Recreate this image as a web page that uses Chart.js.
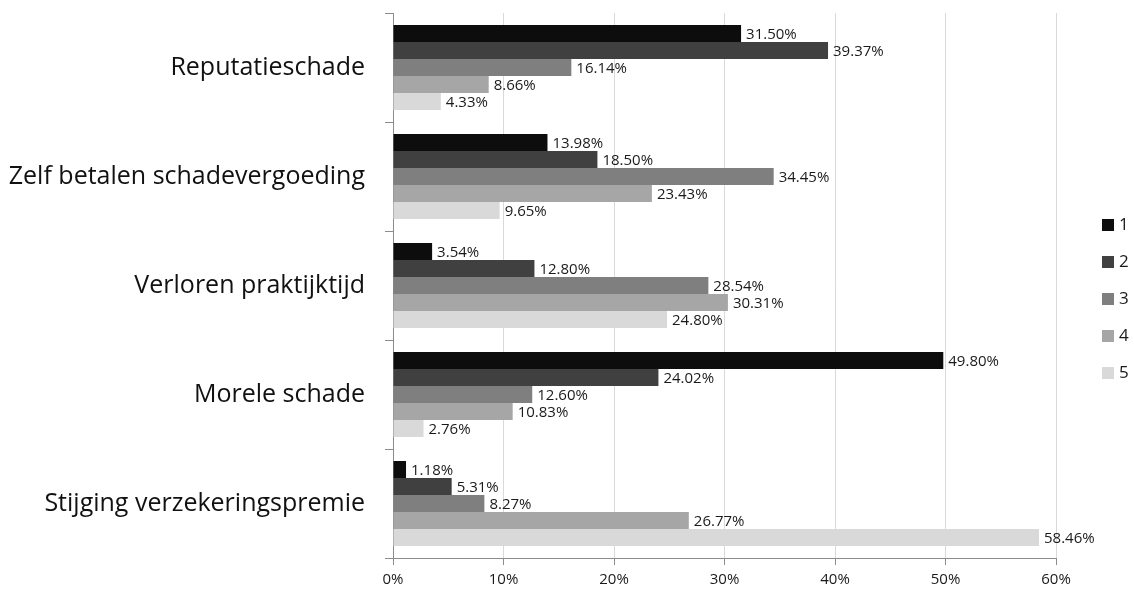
<!DOCTYPE html>
<html>
<head>
<meta charset="utf-8">
<script src="https://cdn.jsdelivr.net/npm/chart.js@4"></script>
<style>
  html, body { margin: 0; padding: 0; background: #fff; }
  #wrap { width: 1134px; height: 591px; }
</style>
</head>
<body>
<div id="wrap"><canvas id="chart" width="1134" height="591"></canvas></div>
<script>
// categories (top to bottom)
const categories = [
  "Reputatieschade",
  "Zelf betalen schadevergoeding",
  "Verloren praktijktijd",
  "Morele schade",
  "Stijging verzekeringspremie",
];

// series values (%), one array per score 1..5
const seriesNames = ["1", "2", "3", "4", "5"];
const score1 = [31.5, 13.98, 3.54, 49.8, 1.18];
const score2 = [39.37, 18.5, 12.8, 24.02, 5.31];
const score3 = [16.14, 34.45, 28.54, 12.6, 8.27];
const score4 = [8.66, 23.43, 30.31, 10.83, 26.77];
const score5 = [4.33, 9.65, 24.8, 2.76, 58.46];
const seriesData = [score1, score2, score3, score4, score5];
const seriesColors = ["#0d0d0d", "#404040", "#7f7f7f", "#a6a6a6", "#d9d9d9"];

const xTicks = [0, 10, 20, 30, 40, 50, 60];

const FONT = "'Open Sans', 'Liberation Sans', sans-serif";

// ==================================
// Data labels at the bar ends
// ==================================
const barLabels = {
  id: "barLabels",
  afterDatasetsDraw(chart) {
    const { ctx } = chart;
    ctx.save();
    ctx.font = "15px " + FONT;
    ctx.fillStyle = "#1a1a1a";
    ctx.textAlign = "left";
    ctx.textBaseline = "middle";
    chart.data.datasets.forEach((ds, i) => {
      chart.getDatasetMeta(i).data.forEach((bar, j) => {
        ctx.fillText(ds.data[j].toFixed(2) + "%", bar.x + 5, bar.y + 1);
      });
    });
    ctx.restore();
  },
};

// ==================================
// Legend on the right (drawn by hand)
// ==================================
const sideLegend = {
  id: "sideLegend",
  afterDraw(chart) {
    const { ctx } = chart;
    ctx.save();
    ctx.font = "17px " + FONT;
    ctx.textBaseline = "middle";
    ctx.textAlign = "left";
    chart.data.datasets.forEach((ds, i) => {
      const y = 225 + i * 37;
      ctx.fillStyle = ds.backgroundColor;
      ctx.fillRect(1102, y - 6, 12, 12);
      ctx.fillStyle = "#1a1a1a";
      ctx.fillText(ds.label, 1119, y);
    });
    ctx.restore();
  },
};

new Chart(document.getElementById("chart"), {
  type: "bar",
  data: {
    labels: categories,
    datasets: seriesNames.map((name, i) => ({
      label: name,
      data: seriesData[i],
      backgroundColor: seriesColors[i],
      borderWidth: 0,
      barPercentage: 1.0,
      categoryPercentage: 0.78,
    })),
  },
  options: {
    indexAxis: "y",
    responsive: false,
    animation: false,
    layout: { padding: { top: 13, right: 78, left: 0, bottom: 0 } },
    plugins: {
      legend: { display: false },
      tooltip: { enabled: false },
    },
    scales: {
      x: {
        min: 0,
        max: 60,
        afterBuildTicks(scale) {
          scale.ticks = xTicks.map((v) => ({ value: v }));
        },
        afterFit(scale) {
          scale.height = 33;
        },
        grid: {
          color: "#d9d9d9",
          lineWidth: 1,
          drawTicks: true,
          tickLength: 7,
          tickColor: "#8c8c8c",
        },
        border: { color: "#8c8c8c", width: 1 },
        ticks: {
          callback: (v) => v + "%",
          color: "#1a1a1a",
          font: { size: 15, family: FONT },
          padding: 6,
        },
      },
      y: {
        afterFit(scale) {
          scale.width = 393;
          scale.paddingTop = 0;
          scale.paddingBottom = 0;
        },
        grid: {
          display: true,
          drawOnChartArea: false,
          drawTicks: true,
          tickLength: 8,
          offset: true,
          color: "#8c8c8c",
        },
        border: { color: "#8c8c8c", width: 1 },
        ticks: {
          color: "#111",
          font: { size: 25, family: FONT },
          padding: 20,
        },
      },
    },
  },
  plugins: [barLabels, sideLegend],
});
</script>
</body>
</html>
